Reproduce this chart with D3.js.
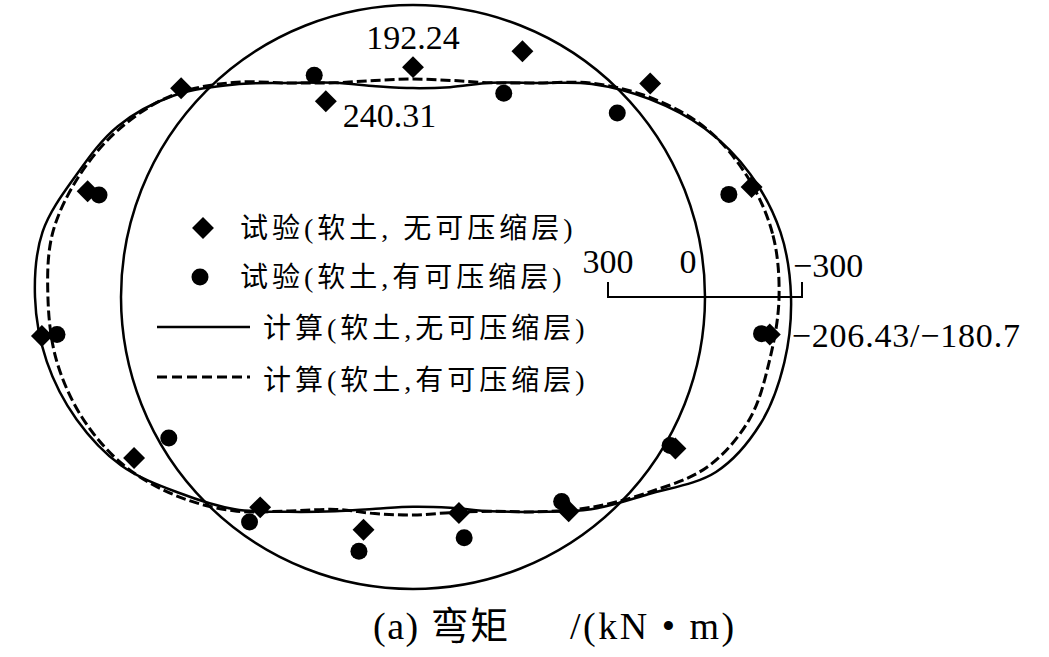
<!DOCTYPE html>
<html>
<head>
<meta charset="utf-8">
<script src="https://cdn.jsdelivr.net/npm/d3@7"></script>
<style>
  body { margin: 0; background: #fff; }
  text { font-family: "Liberation Serif", "Noto Sans CJK SC", serif; fill: #000; }
</style>
</head>
<body>
<div id="chart"></div>
<script>
// angles in degrees, counter-clockwise from the right springline
var calcAngles = [0, 10, 20, 30, 40, 50, 60, 70, 80, 90, 100, 110, 120, 130, 140, 150, 160, 170,
                  180, 190, 200, 210, 220, 230, 240, 250, 260, 270, 280, 290, 300, 310, 320, 330, 340, 350];
// bending moment, kN·m (计算 软土, 无可压缩层)
var calcNoLayer = [-266, -251, -207, -139, -50, 43, 139, 198, 244, 257, 241, 198, 139, 45, -65, -152, -204, -260,
                   -266, -247, -204, -139, -40, 46, 136, 198, 238, 254, 241, 198, 136, 46, -46, -179, -241, -263];
// 计算 软土, 有可压缩层
var calcLayer = [-229, -226, -195, -142, -56, 40, 139, 198, 223, 229, 223, 198, 139, 37, -68, -142, -195, -229,
                 -226, -217, -186, -133, -53, 40, 139, 204, 223, 229, 226, 198, 136, 53, -40, -148, -204, -217];

// measuring points
var testAngles = [18, 42, 66, 90, 114, 138, 162, 186, 210, 234, 258, 282, 306, 330, 354];
var testNoLayer = [-198, -84, 71, 192.24, 240.31, -62, -155, -251, -93, 99, 167, 220, 84, -34, -206.43];
var testLayer = [-124, 53, 213, null, 152, null, -118, -204, 31, 43, 99, 142, 121, -15, -180.7];

var scaleTicks = [300, 0, -300];
var legendLabels = ["试验(软土, 无可压缩层)", "试验(软土,有可压缩层)", "计算(软土,无可压缩层)", "计算(软土,有可压缩层)"];

var width = 1049, height = 657;
var cx = 413, cy = 297, r0 = 292;

var svg = d3.select("#chart")
  .append("svg")
    .attr("width", width)
    .attr("height", height);

svg.append("rect").attr("width", width).attr("height", height).attr("fill", "#fff");

// positive moment drawn inside the lining, negative outside
var r = d3.scaleLinear()
  .domain([300, -300])
  .range([r0 - 97, r0 + 97]);

var toRad = function (deg) { return (90 - deg) * Math.PI / 180; };
var px = function (deg, m) { return cx + r(m) * Math.cos(deg * Math.PI / 180); };
var py = function (deg, m) { return cy - r(m) * Math.sin(deg * Math.PI / 180); };

var g = svg.append("g").attr("transform", "translate(" + cx + "," + cy + ")");

// lining
g.append("circle")
  .attr("r", r(0))
  .attr("fill", "none")
  .attr("stroke", "#000")
  .attr("stroke-width", 2.5);

var line = d3.lineRadial()
  .angle(function (d) { return toRad(d[0]); })
  .radius(function (d) { return r(d[1]); })
  .curve(d3.curveCatmullRomClosed.alpha(0.5));

g.append("path")
  .datum(d3.zip(calcAngles, calcNoLayer))
  .attr("d", line)
  .attr("fill", "none")
  .attr("stroke", "#000")
  .attr("stroke-width", 2.5);

g.append("path")
  .datum(d3.zip(calcAngles, calcLayer))
  .attr("d", line)
  .attr("fill", "none")
  .attr("stroke", "#000")
  .attr("stroke-width", 3)
  .attr("stroke-dasharray", "10,4");

var diamond = d3.symbol().type(d3.symbolSquare).size(240);
var dot = d3.symbol().type(d3.symbolCircle).size(227);

svg.append("g")
  .selectAll("path")
  .data(d3.zip(testAngles, testLayer).filter(function (d) { return d[1] !== null; }))
  .enter()
  .append("path")
    .attr("d", dot)
    .attr("transform", function (d) { return "translate(" + px(d[0], d[1]) + "," + py(d[0], d[1]) + ")"; })
    .attr("fill", "#000");

svg.append("g")
  .selectAll("path")
  .data(d3.zip(testAngles, testNoLayer))
  .enter()
  .append("path")
    .attr("d", diamond)
    .attr("transform", function (d) { return "translate(" + px(d[0], d[1]) + "," + py(d[0], d[1]) + ") rotate(45)"; })
    .attr("fill", "#000");

// value labels
svg.append("text")
  .attr("x", px(90, 192.24))
  .attr("y", py(90, 192.24) - 18)
  .attr("text-anchor", "middle")
  .style("font-size", "34px")
  .text("192.24");

svg.append("text")
  .attr("x", px(114, 240.31) + 17)
  .attr("y", py(114, 240.31) + 26)
  .style("font-size", "34px")
  .text("240.31");

svg.append("text")
  .attr("x", px(354, -206.43) + 22)
  .attr("y", 347)
  .style("font-size", "34px")
  .style("letter-spacing", "0.8px")
  .text("−206.43/−180.7");

// scale bar
var x300 = cx + r(300), xm300 = cx + r(-300);
svg.append("path")
  .attr("d", "M" + x300 + "," + (cy - 15) + "V" + cy + "H" + xm300 + "V" + (cy - 15))
  .attr("fill", "none")
  .attr("stroke", "#000")
  .attr("stroke-width", 2);

svg.append("text").attr("x", x300).attr("y", 273).attr("text-anchor", "middle")
  .style("font-size", "34px").text(scaleTicks[0]);
svg.append("text").attr("x", cx + r(0) - 17).attr("y", 273).attr("text-anchor", "middle")
  .style("font-size", "34px").text(scaleTicks[1]);
svg.append("text").attr("x", xm300 - 9).attr("y", 277)
  .style("font-size", "34px").text("−" + Math.abs(scaleTicks[2]));

// legend
var leg = svg.append("g");
leg.append("path").attr("d", diamond).attr("transform", "translate(203,228) rotate(45)").attr("fill", "#000");
leg.append("path").attr("d", dot).attr("transform", "translate(200,277)").attr("fill", "#000");
leg.append("line").attr("x1", 157).attr("x2", 250).attr("y1", 327).attr("y2", 327)
  .attr("stroke", "#000").attr("stroke-width", 2.5);
leg.append("line").attr("x1", 157).attr("x2", 250).attr("y1", 377).attr("y2", 377)
  .attr("stroke", "#000").attr("stroke-width", 3).attr("stroke-dasharray", "10,5");

var legX = [240, 240, 263, 263], legY = [238, 287, 338, 390];
leg.selectAll("text")
  .data(legendLabels)
  .enter()
  .append("text")
    .attr("x", function (d, i) { return legX[i]; })
    .attr("y", function (d, i) { return legY[i]; })
    .style("font-size", "28px")
    .style("letter-spacing", "4px")
    .text(function (d) { return d; });

// caption
svg.append("text").attr("x", 373).attr("y", 639)
  .style("font-size", "38px").style("letter-spacing", "1.5px").text("(a) 弯矩");
svg.append("text").attr("x", 570).attr("y", 639)
  .style("font-size", "38px").style("letter-spacing", "2.5px").text("/(kN • m)");
</script>
</body>
</html>
